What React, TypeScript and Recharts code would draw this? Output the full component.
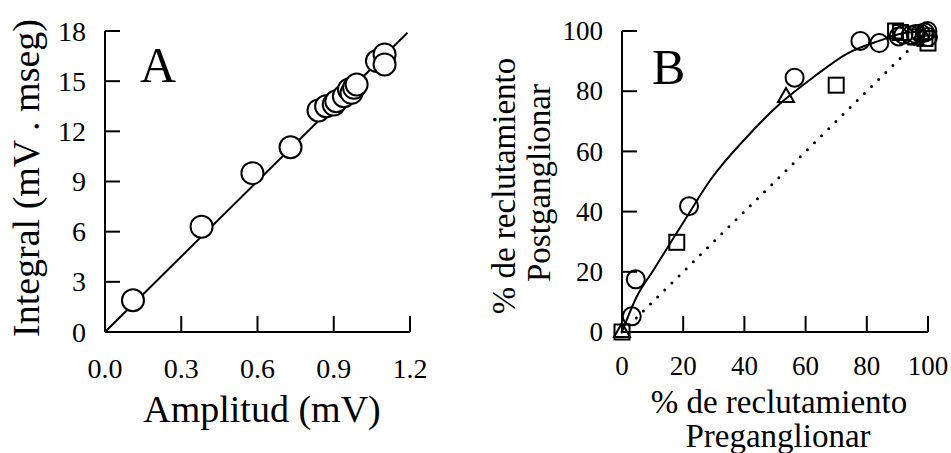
import { ComposedChart, Scatter, Line, XAxis, YAxis } from 'recharts';

// Panel A: integral vs amplitude
const ampA = [0.11, 0.38, 0.58, 0.73, 0.84, 0.87, 0.9, 0.91, 0.94, 0.96, 0.97, 0.98, 0.99, 1.07, 1.1, 1.1];
const intA = [1.9, 6.3, 9.5, 11.05, 13.25, 13.5, 13.6, 13.8, 14.1, 14.5, 14.3, 14.6, 14.8, 16.2, 16.6, 16.0];
const fitA = [{ x: 0, y: 0 }, { x: 1.19, y: 17.9 }];
const ticksAx = [0, 0.3, 0.6, 0.9, 1.2];
const ticksAy = [0, 3, 6, 9, 12, 15, 18];

// Panel B: post vs pre recruitment (%)
const circX = [3.2, 4.5, 21.9, 56.4, 77.9, 84.1, 90.4, 92, 94.3, 96, 97.6, 99, 99.8, 100];
const circY = [5.2, 17.5, 41.8, 84.5, 96.7, 96, 98.2, 98.8, 98.6, 99, 99.2, 99.5, 100, 98];
const sqX = [0, 17.9, 70, 89.4, 91, 96, 99, 100];
const sqY = [0, 29.8, 82, 100, 99.5, 98, 97.5, 96];
const triX = [0, 53.6, 98];
const triY = [0, 78.1, 99];
const curveX = [0, 4.8, 10.3, 15.7, 21.2, 28.8, 40.8, 51.7, 62.6, 73.6, 84.5, 91, 100];
const curveY = [0, 11.7, 20.6, 29.4, 38.3, 50.4, 64.8, 75.9, 84.7, 92.5, 96.9, 99.1, 100];
const identity = [{ x: 0, y: 0 }, { x: 100, y: 100 }];
const ticksB = [0, 20, 40, 60, 80, 100];

const zip = (xs: number[], ys: number[]) => xs.map((x, i) => ({ x, y: ys[i] }));

const serif = "'Liberation Serif', 'Times New Roman', serif";
const ink = '#000';
const AXIS_Y = 332; // plot bottom, both panels

const ringA = (p: any) => <circle cx={p.cx} cy={p.cy} r={11} fill="#fff" stroke={ink} strokeWidth={2} />;
const ringB = (p: any) => <circle cx={p.cx} cy={p.cy} r={9} fill="none" stroke={ink} strokeWidth={2} />;
const boxB = (p: any) => <rect x={p.cx - 7.5} y={p.cy - 7.5} width={15} height={15} fill="none" stroke={ink} strokeWidth={2} />;
const triB = (p: any) => (
  <polygon points={`${p.cx},${p.cy - 9} ${p.cx - 8},${p.cy + 5} ${p.cx + 8},${p.cy + 5}`} fill="none" stroke={ink} strokeWidth={2} />
);

// inward ticks: the mark goes into the plot, the label sits outside
const xTick = (baseline: number, size: number, fmt: (v: number) => string) => (p: any) => (
  <g>
    <line x1={p.x} x2={p.x} y1={AXIS_Y} y2={AXIS_Y - 16} stroke={ink} strokeWidth={2} />
    <text x={p.x} y={baseline} textAnchor="middle" fontSize={size} fontFamily={serif} fill={ink}>
      {fmt(p.payload.value)}
    </text>
  </g>
);
const yTick = (axisX: number, right: number, size: number) => (p: any) => (
  <g>
    <line x1={axisX} x2={axisX + 15} y1={p.y} y2={p.y} stroke={ink} strokeWidth={2} />
    <text x={right} y={p.y + size * 0.34} textAnchor="end" fontSize={size} fontFamily={serif} fill={ink}>
      {p.payload.value}
    </text>
  </g>
);

const PanelA = () => (
  <ComposedChart width={470} height={453} margin={{ top: 31, right: 60, bottom: 31, left: 0 }}>
    <XAxis
      type="number"
      dataKey="x"
      domain={[0, 1.2]}
      ticks={ticksAx}
      interval={0}
      height={90}
      axisLine={{ stroke: ink, strokeWidth: 2 }}
      tickLine={false}
      tick={xTick(378, 28, (v) => v.toFixed(1))}
      label={() => (
        <text x={262} y={422} textAnchor="middle" fontSize={38} fontFamily={serif} fill={ink}>
          Amplitud (mV)
        </text>
      )}
    />
    <YAxis
      type="number"
      dataKey="y"
      domain={[0, 18]}
      ticks={ticksAy}
      interval={0}
      width={105}
      axisLine={{ stroke: ink, strokeWidth: 2 }}
      tickLine={false}
      tick={yTick(105, 86, 28)}
      label={() => (
        <text x={39} y={178} transform="rotate(-90 39 178)" textAnchor="middle" fontSize={38} fontFamily={serif} fill={ink}>
          Integral (mV . mseg)
        </text>
      )}
    />
    <Line data={fitA} dataKey="y" type="linear" stroke={ink} strokeWidth={2} dot={false} isAnimationActive={false} />
    <Scatter data={zip(ampA, intA)} dataKey="y" shape={ringA} isAnimationActive={false} />
    <text x={140} y={82} fontSize={50} fontFamily={serif} fill={ink}>A</text>
  </ComposedChart>
);

const PanelB = () => (
  <ComposedChart width={471} height={453} margin={{ top: 31, right: 23, bottom: 31, left: 0 }}>
    <XAxis
      type="number"
      dataKey="x"
      domain={[0, 100]}
      ticks={ticksB}
      interval={0}
      height={90}
      axisLine={{ stroke: ink, strokeWidth: 2 }}
      tickLine={false}
      tick={xTick(375, 27, (v) => String(v))}
      label={() => (
        <text textAnchor="middle" fontSize={33} fontFamily={serif} fill={ink}>
          <tspan x={299} y={413}>% de reclutamiento</tspan>
          <tspan x={298} y={447}>Preganglionar</tspan>
        </text>
      )}
    />
    <YAxis
      type="number"
      dataKey="y"
      domain={[0, 100]}
      ticks={ticksB}
      interval={0}
      width={142}
      axisLine={{ stroke: ink, strokeWidth: 2 }}
      tickLine={false}
      tick={yTick(142, 123, 27)}
      label={() => (
        <g>
          <text x={35} y={186} transform="rotate(-90 35 186)" textAnchor="middle" fontSize={33} fontFamily={serif} fill={ink}>
            % de reclutamiento
          </text>
          <text x={70} y={183} transform="rotate(-90 70 183)" textAnchor="middle" fontSize={33} fontFamily={serif} fill={ink}>
            Postganglionar
          </text>
        </g>
      )}
    />
    <Line data={identity} dataKey="y" type="linear" stroke={ink} strokeWidth={3} strokeDasharray="0 10" strokeLinecap="round" dot={false} isAnimationActive={false} />
    <Line data={zip(curveX, curveY)} dataKey="y" type="monotone" stroke={ink} strokeWidth={2} dot={false} isAnimationActive={false} />
    <Scatter data={zip(sqX, sqY)} dataKey="y" shape={boxB} isAnimationActive={false} />
    <Scatter data={zip(triX, triY)} dataKey="y" shape={triB} isAnimationActive={false} />
    <Scatter data={zip(circX, circY)} dataKey="y" shape={ringB} isAnimationActive={false} />
    <text x={172} y={84} fontSize={50} fontFamily={serif} fill={ink}>B</text>
  </ComposedChart>
);

export default function App() {
  return (
    <div style={{ position: 'absolute', left: 0, top: 0, width: 951, height: 453, background: '#fff' }}>
      <div style={{ position: 'absolute', left: 0, top: 0 }}>
        <PanelA />
      </div>
      <div style={{ position: 'absolute', left: 480, top: 0 }}>
        <PanelB />
      </div>
    </div>
  );
}
